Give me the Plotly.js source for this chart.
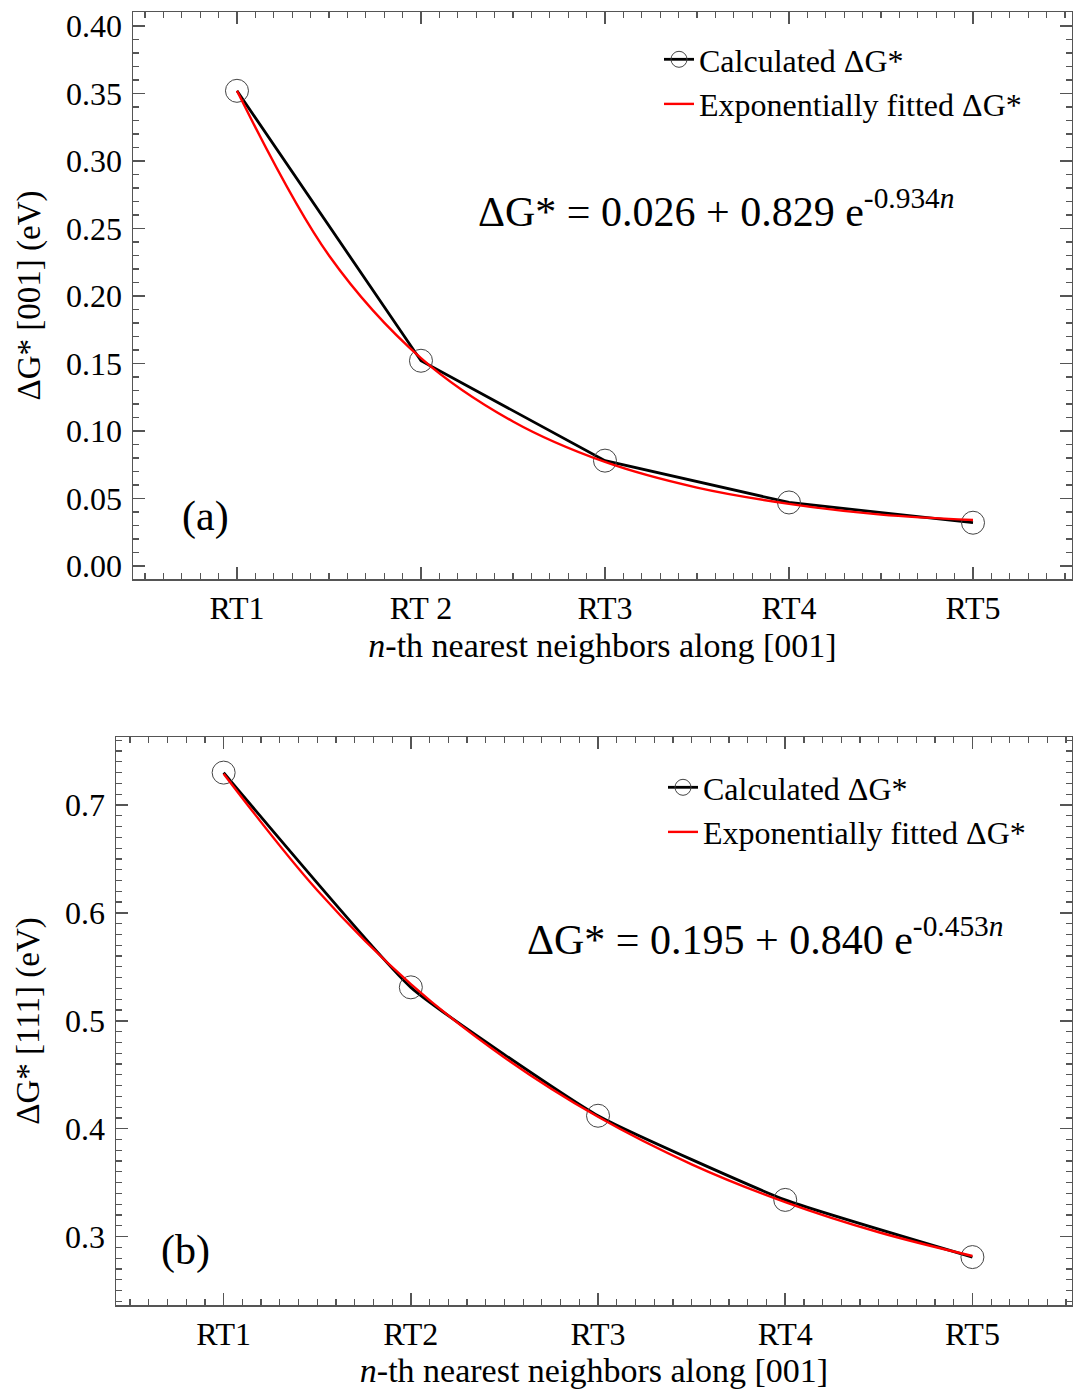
<!DOCTYPE html>
<html>
<head>
<meta charset="utf-8">
<script src="https://cdn.plot.ly/plotly-3.0.1.min.js"></script>
<style>html,body{margin:0;padding:0;background:#fff;}</style>
</head>
<body>
<div id="chart" style="width:1073px;height:1389px;"></div>
<script>
// ---- Data ----
const nPos = [1, 2, 3, 4, 5];
const tickLabelsA = ["RT1", "RT 2", "RT3", "RT4", "RT5"];
const tickLabelsB = ["RT1", "RT2", "RT3", "RT4", "RT5"];

// (a) [001]
const calcA = [0.352, 0.152, 0.078, 0.047, 0.032];
const fitPosA = [1, 1.5, 2, 2.5, 3, 3.5, 4, 4.5, 5];
const fitA = [0.352, 0.230, 0.154, 0.107, 0.077, 0.058, 0.046, 0.038, 0.034];

// (b) [111]
const calcB = [0.730, 0.531, 0.412, 0.334, 0.281];
const fitPosB = [1, 1.5, 2, 2.5, 3, 3.5, 4, 4.5, 5];
const fitB = [0.729, 0.621, 0.534, 0.466, 0.411, 0.367, 0.332, 0.304, 0.282];

const FONT = "Liberation Serif, Times New Roman, serif";
const AX = "#555555";

const traces = [
  {x: nPos, y: calcA, type: "scatter", mode: "lines+markers", name: "Calculated ΔG*",
   xaxis: "x", yaxis: "y", legend: "legend",
   line: {color: "#000000", width: 2.8},
   marker: {symbol: "circle-open", size: 23, color: "#444444", line: {width: 1, color: "#444444"}}},
  {x: fitPosA, y: fitA, type: "scatter", mode: "lines", name: "Exponentially fitted ΔG*",
   xaxis: "x", yaxis: "y", legend: "legend",
   line: {color: "#ff0000", width: 2.4, shape: "spline", smoothing: 1}},
  {x: nPos, y: calcB, type: "scatter", mode: "lines+markers", name: "Calculated ΔG*",
   xaxis: "x2", yaxis: "y2", legend: "legend2",
   line: {color: "#000000", width: 2.8, shape: "spline", smoothing: 0.4},
   marker: {symbol: "circle-open", size: 23, color: "#444444", line: {width: 1, color: "#444444"}}},
  {x: fitPosB, y: fitB, type: "scatter", mode: "lines", name: "Exponentially fitted ΔG*",
   xaxis: "x2", yaxis: "y2", legend: "legend2",
   line: {color: "#ff0000", width: 2.4, shape: "spline", smoothing: 1}}
];

function xax(domain, range, labels, anchor) {
  return {
    domain: domain, range: range, anchor: anchor,
    tickmode: "array", tickvals: nPos, ticktext: labels,
    ticks: "inside", ticklen: 12, tickwidth: 1.5, tickcolor: AX,
    showline: true, linecolor: AX, linewidth: 1.5, mirror: "allticks",
    showgrid: false, zeroline: false,
    minor: {tickmode: "linear", tick0: 0, dtick: 0.1, ticks: "inside", ticklen: 6, tickwidth: 1.2, tickcolor: AX, showgrid: false},
    tickfont: {family: FONT, size: 32, color: "#000"},
    ticklabelstandoff: 0,
    title: {text: "<i>n</i>-th nearest neighbors along [001]", font: {family: FONT, size: 34, color: "#000"}, standoff: 8},
    automargin: false
  };
}
function yax(domain, range, dtick, mdtick, fmt, title, anchor, standoff) {
  return {
    domain: domain, range: range, anchor: anchor,
    tickmode: "linear", tick0: 0, dtick: dtick, tickformat: fmt,
    ticks: "inside", ticklen: 12, tickwidth: 1.5, tickcolor: AX,
    showline: true, linecolor: AX, linewidth: 1.5, mirror: "allticks",
    showgrid: false, zeroline: false,
    minor: {tickmode: "linear", tick0: 0, dtick: mdtick, ticks: "inside", ticklen: 6, tickwidth: 1.2, tickcolor: AX, showgrid: false},
    tickfont: {family: FONT, size: 32, color: "#000"},
    ticklabelstandoff: 3,
    title: {text: title, font: {family: FONT, size: 33, color: "#000"}, standoff: standoff},
    automargin: false
  };
}

const layout = {
  width: 1073, height: 1389,
  margin: {l: 0, r: 0, t: 0, b: 0},
  paper_bgcolor: "#ffffff", plot_bgcolor: "#ffffff",
  font: {family: FONT, color: "#000"},
  showlegend: true,
  xaxis: xax([133/1073, 1072/1073], [0.435, 5.538], tickLabelsA, "y"),
  yaxis: yax([1 - 579/1389, 1 - 12/1389], [-0.0097, 0.4104], 0.05, 0.01, ".2f", "ΔG* [001] (eV)", "x", 15),
  xaxis2: xax([116/1073, 1072/1073], [0.425, 5.532], tickLabelsB, "y2"),
  yaxis2: yax([1 - 1305/1389, 1 - 737/1389], [0.2366, 0.763], 0.1, 0.01, ".1f", "ΔG* [111] (eV)", "x2", 15),
  legend: {x: 659/1073, y: 1 - 32/1389, xanchor: "left", yanchor: "top",
           bgcolor: "rgba(0,0,0,0)", borderwidth: 0, font: {family: FONT, size: 32, color: "#000"}},
  legend2: {x: 663/1073, y: 1 - 760/1389, xanchor: "left", yanchor: "top",
           bgcolor: "rgba(0,0,0,0)", borderwidth: 0, font: {family: FONT, size: 32, color: "#000"}},
  annotations: [
    {xref: "paper", yref: "paper", x: 716/1073, y: 1 - 208/1389, xanchor: "center", yanchor: "middle",
     text: "ΔG* = 0.026 + 0.829 e<sup>-0.934<i>n</i></sup>", showarrow: false,
     font: {family: FONT, size: 42, color: "#000"}},
    {xref: "paper", yref: "paper", x: 765/1073, y: 1 - 936/1389, xanchor: "center", yanchor: "middle",
     text: "ΔG* = 0.195 + 0.840 e<sup>-0.453<i>n</i></sup>", showarrow: false,
     font: {family: FONT, size: 42, color: "#000"}},
    {xref: "paper", yref: "paper", x: 205/1073, y: 1 - 517/1389, xanchor: "center", yanchor: "middle",
     text: "(a)", showarrow: false, font: {family: FONT, size: 42, color: "#000"}},
    {xref: "paper", yref: "paper", x: 185/1073, y: 1 - 1250/1389, xanchor: "center", yanchor: "middle",
     text: "(b)", showarrow: false, font: {family: FONT, size: 42, color: "#000"}}
  ]
};

Plotly.newPlot("chart", traces, layout, {displayModeBar: false, staticPlot: true});
</script>
</body>
</html>
